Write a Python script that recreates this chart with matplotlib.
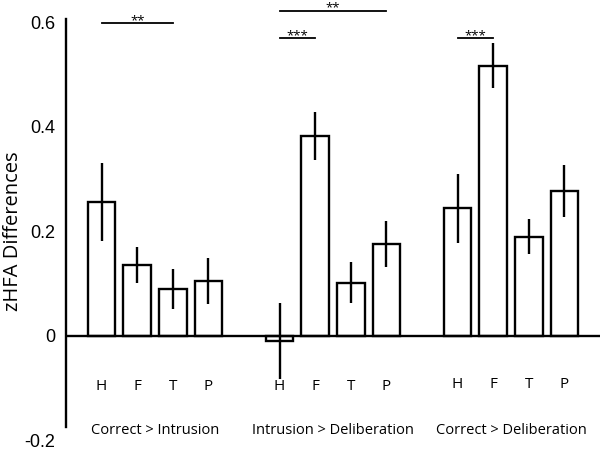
import matplotlib
matplotlib.use("Agg")
import matplotlib.pyplot as plt

# data
groups = ["Correct > Intrusion", "Intrusion > Deliberation", "Correct > Deliberation"]
regions = ["H", "F", "T", "P"]
means_ci = [0.256, 0.136, 0.090, 0.105]
errs_ci = [0.075, 0.034, 0.038, 0.044]
means_id = [-0.010, 0.383, 0.102, 0.175]
errs_id = [0.072, 0.046, 0.040, 0.044]
means_cd = [0.244, 0.516, 0.190, 0.277]
errs_cd = [0.066, 0.043, 0.033, 0.049]

# significance bars: (group, from region, to region, height, label)
sig_group = [0, 1, 1, 2]
sig_from = [0, 0, 0, 0]
sig_to = [2, 1, 3, 1]
sig_y = [0.598, 0.570, 0.622, 0.570]
sig_text = ["**", "***", "**", "***"]

yticks = [-0.2, 0, 0.2, 0.4, 0.6]
ytick_labels = ["-0.2", "0", "0.2", "0.4", "0.6"]

fig = plt.figure(figsize=(6, 4.5), dpi=100)
ax = fig.add_axes([0.11, 0.021, 0.89, 0.93])

label_font = "Open Sans"
lw = 1.7
step = 5  # 4 bars + one empty slot between groups

all_means = [means_ci, means_id, means_cd]
all_errs = [errs_ci, errs_id, errs_cd]

for g, (m, e) in enumerate(zip(all_means, all_errs)):
    xs = [g * step + i for i in range(len(regions))]
    ax.bar(xs, m, width=0.78, color="white", edgecolor="black", linewidth=lw, zorder=2)
    ax.errorbar(xs, m, yerr=e, fmt="none", ecolor="black", elinewidth=lw, capsize=0, zorder=3)
    for x, r in zip(xs, regions):
        ax.text(x, -0.097 if g < 2 else -0.092, r, ha="center", va="center",
                fontsize=11, family=label_font)
    ax.text(g * step + 1.5, -0.18, groups[g], ha="center", va="center",
            fontsize=10.5, family=label_font)

for g, a, b, y, t in zip(sig_group, sig_from, sig_to, sig_y, sig_text):
    x0 = g * step + a
    x1 = g * step + b
    ax.plot([x0, x1], [y, y], color="black", lw=1.3, clip_on=False)
    ax.text((x0 + x1) / 2, y - 0.008, t, ha="center", va="bottom", fontsize=9.5,
            family=label_font, clip_on=False)

ax.axhline(0, color="black", lw=lw, zorder=4)

ax.set_xlim(-1, 14)
ax.set_ylim(-0.2, 0.6)
ax.set_yticks(yticks)
ax.set_yticklabels(ytick_labels, family="Liberation Sans", fontsize=13)
ax.tick_params(axis="y", length=0, pad=8)
ax.set_xticks([])
for s in ["top", "right", "bottom"]:
    ax.spines[s].set_visible(False)
ax.spines["left"].set_linewidth(lw)
ax.spines["left"].set_bounds(-0.175, 0.605)

ax.set_ylabel("zHFA Differences", family=label_font, fontsize=14.5, labelpad=1)

fig.savefig("out.png", dpi=100)
